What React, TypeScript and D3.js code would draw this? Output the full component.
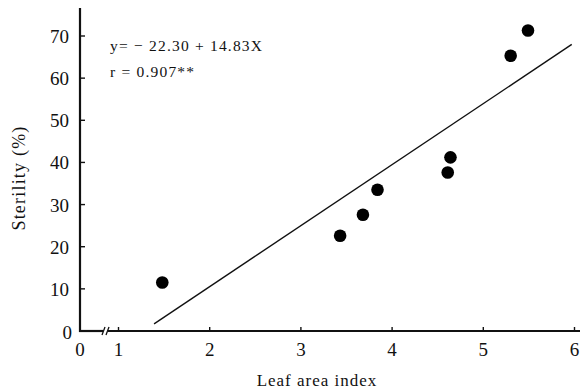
import { useRef, useEffect } from 'react';
import * as d3 from 'd3';

const laiValues = [1.48, 3.43, 3.68, 3.84, 4.61, 4.64, 5.3, 5.49];
const sterilityValues = [11.5, 22.6, 27.6, 33.5, 37.6, 41.2, 65.3, 71.3];
const fitLineX = [1.39, 5.97];
const fitLineY = [1.7, 68.0];
const xTicks = [0, 1, 2, 3, 4, 5, 6];
const yTicks = [0, 10, 20, 30, 40, 50, 60, 70];
const equationLines = ['y= \u2212 22.30 + 14.83X', 'r = 0.907**'];

const W = 588;
const H = 392;
const FONT = '"Liberation Serif", "Times New Roman", serif';

const ScatterChart = () => {
  const svgRef = useRef<SVGSVGElement>(null);

  useEffect(() => {
    const svg = d3.select(svgRef.current);
    svg.selectAll('*').remove();

    // broken x axis: 0 squeezed next to 1
    const x = d3.scaleLinear().domain([0, 1, 6]).range([80, 118.5, 574.5]);
    const y = d3.scaleLinear().domain([0, 70]).range([331, 36]);

    const g = svg.append('g').attr('font-family', FONT).attr('fill', '#111');

    // y axis
    g.append('line')
      .attr('x1', x(0)).attr('x2', x(0))
      .attr('y1', y(0) + 1).attr('y2', 8)
      .attr('stroke', '#111').attr('stroke-width', 2.2);

    g.selectAll('line.ytick')
      .data(yTicks.filter(d => d > 0))
      .join('line')
      .attr('class', 'ytick')
      .attr('x1', x(0)).attr('x2', x(0) + 5)
      .attr('y1', d => y(d)).attr('y2', d => y(d))
      .attr('stroke', '#111').attr('stroke-width', 1.4);

    g.selectAll('text.ylab')
      .data(yTicks)
      .join('text')
      .attr('class', 'ylab')
      .attr('x', d => (d === 0 ? 72 : 69))
      .attr('y', d => y(d) + (d === 0 ? 8 : 7))
      .attr('text-anchor', 'end')
      .attr('font-size', 19)
      .text(d => d);

    // x axis with break marks
    g.append('line')
      .attr('x1', x(0) - 1).attr('x2', 103)
      .attr('y1', y(0)).attr('y2', y(0))
      .attr('stroke', '#111').attr('stroke-width', 2.2);
    g.append('line')
      .attr('x1', 108).attr('x2', 580)
      .attr('y1', y(0)).attr('y2', y(0))
      .attr('stroke', '#111').attr('stroke-width', 2.2);
    [103.5, 107.5].forEach(bx => {
      g.append('line')
        .attr('x1', bx - 1.5).attr('x2', bx + 1.5)
        .attr('y1', y(0) + 4).attr('y2', y(0) - 4)
        .attr('stroke', '#111').attr('stroke-width', 1.3);
    });

    g.selectAll('line.xtick')
      .data(xTicks.filter(d => d > 0))
      .join('line')
      .attr('class', 'xtick')
      .attr('x1', d => x(d)).attr('x2', d => x(d))
      .attr('y1', y(0)).attr('y2', y(0) - 4)
      .attr('stroke', '#111').attr('stroke-width', 1.4);

    g.selectAll('text.xlab')
      .data(xTicks)
      .join('text')
      .attr('class', 'xlab')
      .attr('x', d => x(d))
      .attr('y', 356)
      .attr('text-anchor', 'middle')
      .attr('font-size', 19)
      .text(d => d);

    // regression line
    const line = d3.line<number>()
      .x(d => x(d))
      .y((_d, i) => y(fitLineY[i]));
    g.append('path')
      .attr('d', line(fitLineX) || '')
      .attr('fill', 'none')
      .attr('stroke', '#111')
      .attr('stroke-width', 1.4);

    // points
    g.selectAll('circle.pt')
      .data(laiValues)
      .join('circle')
      .attr('class', 'pt')
      .attr('cx', d => x(d))
      .attr('cy', (_d, i) => y(sterilityValues[i]))
      .attr('r', 6.3)
      .attr('fill', '#000');

    // equation
    g.selectAll('text.eq')
      .data(equationLines)
      .join('text')
      .attr('class', 'eq')
      .attr('x', 110)
      .attr('y', (_d, i) => 51 + i * 26)
      .attr('font-size', 15.5)
      .attr('letter-spacing', 1.2)
      .text(d => d);

    // axis titles
    g.append('text')
      .attr('x', 317)
      .attr('y', 386)
      .attr('text-anchor', 'middle')
      .attr('font-size', 17)
      .attr('letter-spacing', 1)
      .text('Leaf area index');

    g.append('text')
      .attr('transform', `translate(25,${178}) rotate(-90)`)
      .attr('text-anchor', 'middle')
      .attr('font-size', 18)
      .attr('letter-spacing', 1.2)
      .text('Sterility (%)');
  }, []);

  return (
    <svg
      ref={svgRef}
      width={W}
      height={H}
      style={{ position: 'absolute', left: 0, top: 0, background: '#fff' }}
    />
  );
};

export default function App() {
  return <ScatterChart />;
}
